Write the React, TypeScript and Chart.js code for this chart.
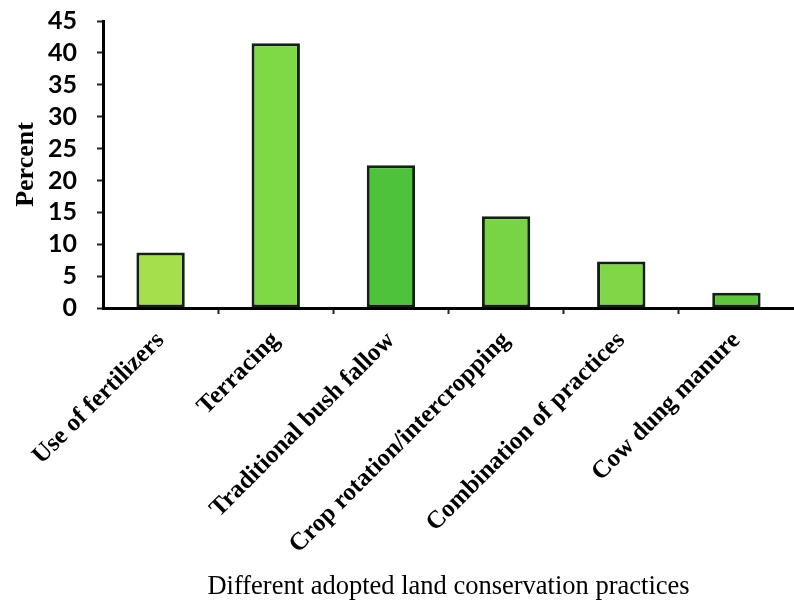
import React, { useEffect, useRef } from "react";
import { Chart, registerables } from "chart.js";

Chart.register(...registerables);

const categories: string[] = [
  "Use of fertilizers",
  "Terracing",
  "Traditional bush fallow",
  "Crop rotation/intercropping",
  "Combination of practices",
  "Cow dung manure",
];

const percentValues: number[] = [8.7, 41.5, 22.4, 14.4, 7.3, 2.4];

const barColors: string[] = ["#a6df4c", "#7fd846", "#4fc23b", "#78d444", "#7fd747", "#5ec63d"];

const yTickValues: number[] = [0, 5, 10, 15, 20, 25, 30, 35, 40, 45];

const yAxisTitle = "Percent";
const xAxisTitle = "Different adopted land conservation practices";

export default function App() {
  const canvasRef = useRef<HTMLCanvasElement | null>(null);

  useEffect(() => {
    document.body.style.margin = "0";
    const canvas = canvasRef.current;
    if (!canvas) return;

    const chart = new Chart(canvas, {
      type: "bar",
      data: {
        labels: categories,
        datasets: [
          {
            data: percentValues,
            backgroundColor: barColors,
            borderColor: "#112210",
            borderWidth: 3,
            borderSkipped: false,
            categoryPercentage: 0.42,
            barPercentage: 1,
          },
        ],
      },
      options: {
        animation: false,
        responsive: false,
        maintainAspectRatio: false,
        layout: { padding: { top: 21, right: 0, left: 0, bottom: 0 } },
        plugins: {
          legend: { display: false },
          tooltip: { enabled: false },
        },
        scales: {
          x: {
            type: "category",
            offset: true,
            border: { display: true, color: "#000", width: 3 },
            grid: {
              offset: true,
              drawOnChartArea: false,
              drawTicks: true,
              tickLength: 6,
              tickWidth: 2,
              tickColor: (ctx: any) =>
                ctx.index === undefined || ctx.index === 0 || ctx.index >= categories.length
                  ? "rgba(0,0,0,0)"
                  : "#222",
            },
            ticks: {
              autoSkip: false,
              maxRotation: 45,
              minRotation: 45,
              padding: 12,
              color: "#000",
              font: { family: "'Liberation Serif', 'Times New Roman', serif", size: 25, weight: "bold" },
            },
            title: {
              display: true,
              text: xAxisTitle,
              color: "#000",
              font: { family: "'Liberation Serif', 'Times New Roman', serif", size: 26.5 },
              padding: { top: 0, bottom: 6 },
            },
            afterFit: (scale: any) => {
              scale.height = 301;
            },
          },
          y: {
            min: 0,
            max: 45,
            afterBuildTicks: (scale: any) => {
              scale.ticks = yTickValues.map((v) => ({ value: v }));
            },
            border: { display: true, color: "#000", width: 3 },
            grid: {
              drawOnChartArea: false,
              drawTicks: true,
              tickLength: 6,
              tickWidth: 2,
              tickColor: "#222",
            },
            ticks: {
              autoSkip: false,
              stepSize: 5,
              padding: 20,
              color: "#000",
              font: { family: "Lato, 'Open Sans', sans-serif", size: 25, weight: "bold" },
            },
            title: {
              display: true,
              text: yAxisTitle,
              color: "#000",
              font: { family: "'Liberation Serif', 'Times New Roman', serif", size: 26, weight: "bold" },
              padding: { top: 11, bottom: 0 },
            },
            afterFit: (scale: any) => {
              scale.width = 103;
              scale.paddingTop = 0;
              scale.paddingBottom = 0;
            },
          },
        },
      },
    });

    return () => {
      chart.destroy();
    };
  }, []);

  return (
    <div style={{ width: 794, height: 609, background: "#fff" }}>
      <canvas ref={canvasRef} width={794} height={609} style={{ display: "block" }} />
    </div>
  );
}
